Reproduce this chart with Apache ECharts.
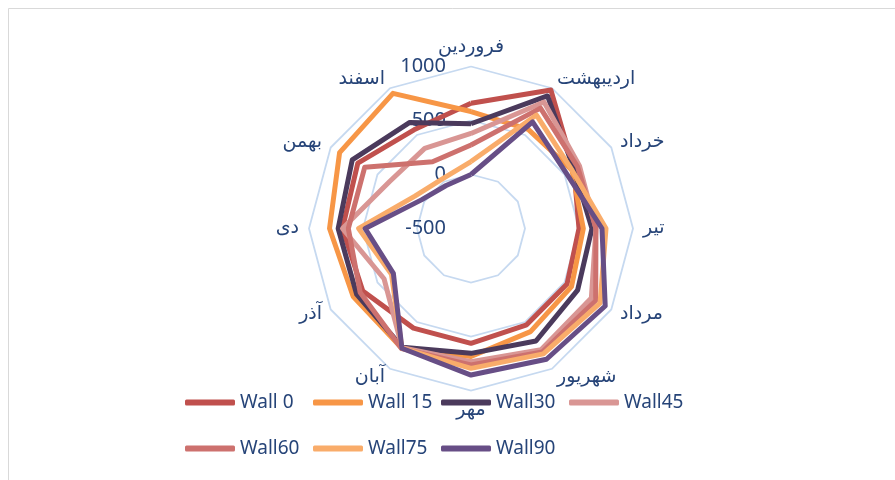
<!DOCTYPE html>
<html><head><meta charset="utf-8">
<script src="https://cdn.jsdelivr.net/npm/echarts@6/dist/echarts.min.js"></script>
<style>html,body{margin:0;padding:0;background:#fff}#c{width:895px;height:480px}</style>
</head><body><div id="c"></div>
<script>
// Months in clockwise order starting at the top
const months = ['فروردین','اردیبهشت','خرداد','تیر','مرداد','شهریور','مهر','آبان','آذر','دی','بهمن','اسفند'];
const seriesNames = ['Wall 0','Wall 15','Wall30','Wall45','Wall60','Wall75','Wall90'];
const wall0  = [660, 980, 600, 500, 527, 530, 563, 565, 657, 690, 710, 555];
const wall15 = [583, 560, 580, 540, 575, 602, 685, 780, 760, 810, 905, 945];
const wall30 = [470, 917, 600, 620, 640, 703, 656, 770, 722, 730, 770, 634];
const wall45 = [380, 852, 660, 657, 787, 797, 733, 775, 430, 690, 370, 357];
const wall60 = [273, 787, 640, 657, 833, 820, 764, 785, 685, 636, 636, 213];
const wall75 = [120, 713, 580, 750, 880, 840, 795, 780, 350, 540, 100, 30];
const wall90 = [0, 640, 520, 713, 935, 898, 857, 780, 330, 480, 30, -40];
const tickLabels = ['-500','0','500','1000'];
const axisMin = -500, axisMax = 1000;

const seriesValues = [wall0, wall15, wall30, wall45, wall60, wall75, wall90];
const colors = ['#C0504D','#F79646','#4B3A5C','#D99694','#CD716E','#F9AC6A','#674E86'];
const textColor = '#264478';

// ECharts radar runs counter-clockwise; reorder so that months run clockwise
const order = [0];
for (let i = months.length - 1; i >= 1; i--) order.push(i);

const indicator = order.map((i, k) => {
  const o = { name: months[i], min: axisMin, max: axisMax };
  if (k === 0) o.axisLabel = {
    show: true, color: textColor, fontSize: 20, margin: 25,
    fontFamily: 'Noto Sans', padding: [10, 0, 0, 0],
    formatter: v => tickLabels[Math.round((v - axisMin) / 500)]
  };
  return o;
});

// one legend per item so the items sit on a fixed column grid
const legends = seriesNames.map((name, s) => ({
  data: [name],
  left: 185 + 128 * (s % 4),
  top: s < 4 ? 393 : 439,
  padding: 0,
  icon: 'roundRect', itemWidth: 50, itemHeight: 6,
  textStyle: {color: textColor, fontSize: 19, fontFamily: 'Noto Sans'}
}));

const chart = echarts.init(document.getElementById('c'), null, {renderer: 'canvas'});
chart.setOption({
  animation: false,
  backgroundColor: '#fff',
  color: colors,
  graphic: [{
    type: 'rect', shape: {x: 8.5, y: 8.5, width: 900, height: 480},
    style: {fill: 'none', stroke: '#D9D9D9', lineWidth: 1}, silent: true
  }],
  legend: legends,
  radar: {
    center: [471, 228.5],
    radius: 162,
    startAngle: 90,
    splitNumber: 3,
    shape: 'polygon',
    indicator: indicator,
    nameGap: 10,
    axisName: {color: textColor, fontSize: 19, fontFamily: 'DejaVu Sans'},
    axisLine: {show: false},
    axisTick: {show: false},
    axisLabel: {show: false},
    splitArea: {show: false},
    splitLine: {lineStyle: {color: '#C6D9F0', width: 1.8}}
  },
  series: [{
    type: 'radar',
    symbol: 'none',
    data: seriesValues.map((vals, s) => ({
      name: seriesNames[s],
      value: order.map(i => vals[i]),
      lineStyle: {width: 5, color: colors[s]},
      itemStyle: {color: colors[s]}
    }))
  }]
});
</script></body></html>
